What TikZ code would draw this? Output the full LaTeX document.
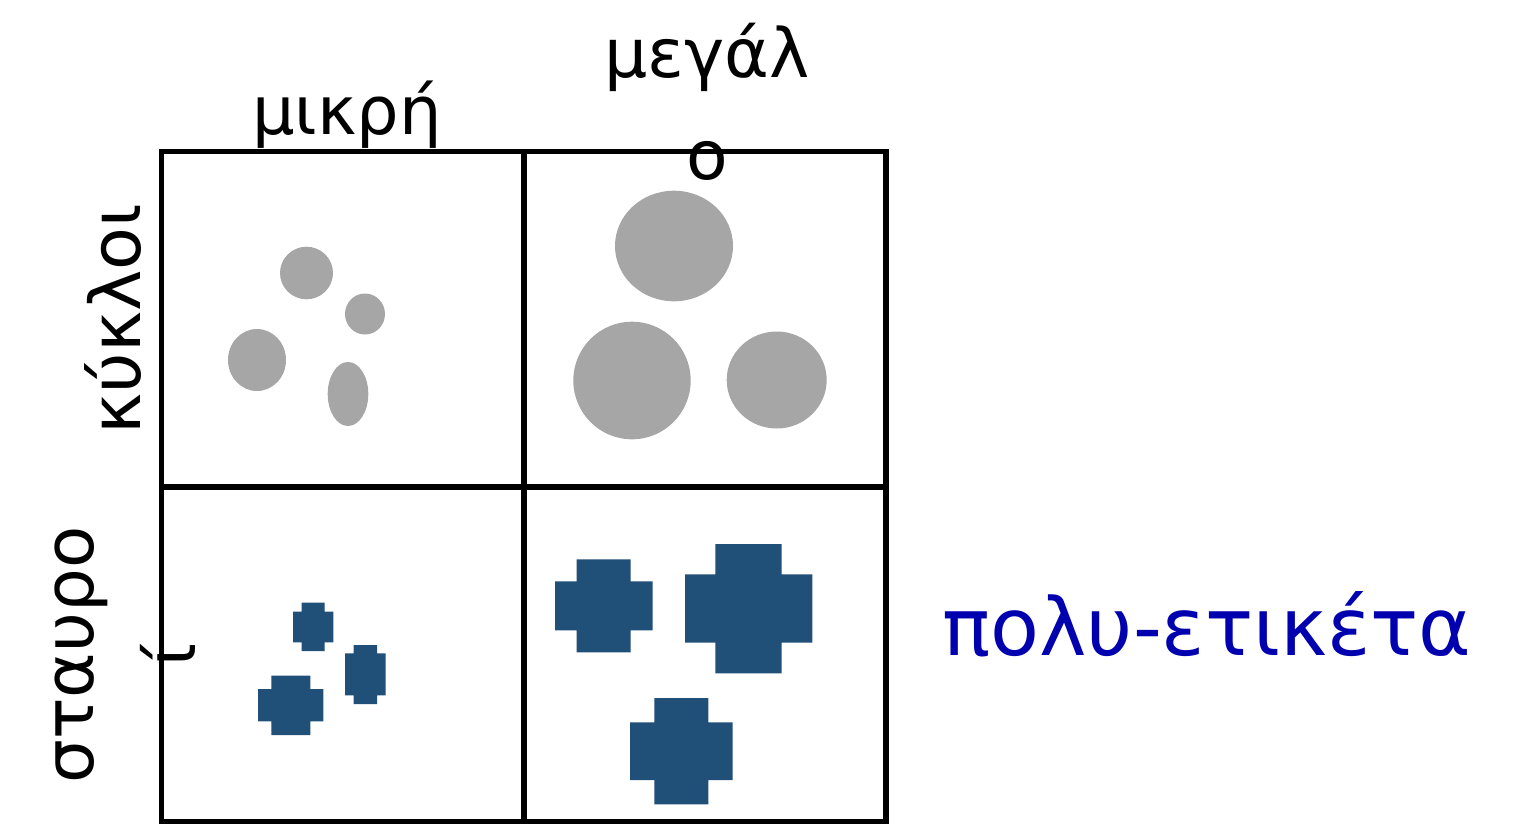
\documentclass[tikz,border=0pt]{standalone}
\usepackage{fontspec}
\setmainfont{DejaVu Sans}
\definecolor{dotgray}{RGB}{166,166,166}
\definecolor{crossblue}{RGB}{32,79,120}
\definecolor{tagblue}{RGB}{0,0,175}
\newcommand\fs[1]{\fontsize{#1}{102}\selectfont}
\begin{document}
\begin{tikzpicture}[x=1pt,y=-1pt,
  gridline/.style={line width=5.5pt},
  dot/.style={fill=dotgray},
  crossfill/.style={fill=crossblue},
  lbl/.style={inner sep=0pt}]
\useasboundingbox (0,0) rectangle (1537,823);

% 2x2 grid
\draw[gridline] (161.5,151.5) rectangle (886,822);
\draw[gridline] (524,151.5) -- (524,822);
\draw[gridline] (161.5,487) -- (886,487);

% small circles
\fill[dot] (306.5,273) ellipse [x radius=26.5pt, y radius=26.3pt];
\fill[dot] (365,314) ellipse [x radius=20pt, y radius=20.5pt];
\fill[dot] (257,360) ellipse [x radius=29pt, y radius=31pt];
\fill[dot] (348,394) ellipse [x radius=20.3pt, y radius=32pt];

% large circles
\fill[dot] (674,246) ellipse [x radius=59pt, y radius=55.3pt];
\fill[dot] (632,380.5) ellipse [x radius=58.7pt, y radius=58.8pt];
\fill[dot] (776.7,380) ellipse [x radius=50pt, y radius=48.5pt];

% small crosses
\fill[crossfill] (301.7,602.7) rectangle (324.7,651) (293,611.7) rectangle (333.3,642.3);
\fill[crossfill] (353.7,645) rectangle (377,704) (345,653.3) rectangle (385.7,695.3);
\fill[crossfill] (271.3,675.7) rectangle (310.3,735) (258,689) rectangle (323.3,721.3);

% large crosses
\fill[crossfill] (576.7,559.3) rectangle (630.7,652.3) (555,581.3) rectangle (652.7,630.3);
\fill[crossfill] (715.3,544) rectangle (781.7,673.3) (685,574.3) rectangle (812.3,642.7);
\fill[crossfill] (654.3,698) rectangle (708.3,804.3) (630,722.3) rectangle (732.7,780);

% labels (multi-line nodes sit on the baseline of their last line)
\node[lbl, font=\fs{67}, anchor=base] (small) at (347,134) {μικρή};
\node[lbl, font=\fs{68}, align=center, anchor=base] (large) at (707,179) {μεγάλ\\ο};
\node[lbl, font=\fs{70}, rotate=90, anchor=base] (circles) at (140,319) {κύκλοι};
\node[lbl, font=\fs{69}, rotate=90, align=center, anchor=base] (crosses) at (195,655) {σταυρο\\ί};
\node[lbl, font=\fs{80}, text=tagblue, anchor=base west] (multi) at (942,655) {πολυ-ετικέτα};
\end{tikzpicture}
\end{document}
